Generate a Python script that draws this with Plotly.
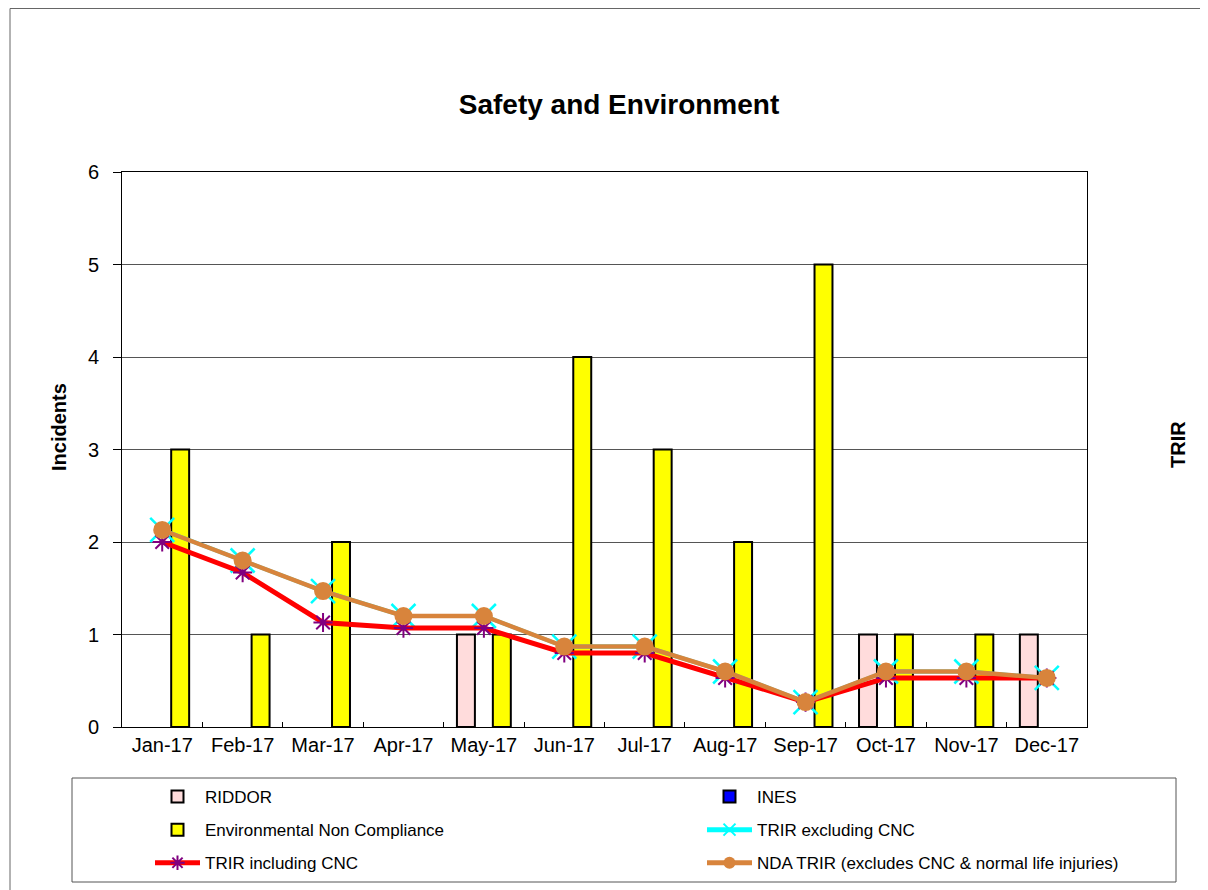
import plotly.graph_objects as go

months = ["Jan-17", "Feb-17", "Mar-17", "Apr-17", "May-17", "Jun-17",
          "Jul-17", "Aug-17", "Sep-17", "Oct-17", "Nov-17", "Dec-17"]
riddor = [0, 0, 0, 0, 1, 0, 0, 0, 0, 1, 0, 1]
ines = [0, 0, 0, 0, 0, 0, 0, 0, 0, 0, 0, 0]
env_nc = [3, 1, 2, 0, 1, 4, 3, 2, 5, 1, 1, 0]
trir_excl = [2.13, 1.8, 1.47, 1.2, 1.2, 0.87, 0.87, 0.6, 0.27, 0.6, 0.6, 0.53]
trir_incl = [2.0, 1.67, 1.13, 1.07, 1.07, 0.8, 0.8, 0.53, 0.27, 0.53, 0.53, 0.53]
nda_trir = [2.13, 1.8, 1.47, 1.2, 1.2, 0.87, 0.87, 0.6, 0.27, 0.6, 0.6, 0.53]

# page body offset of 8px; all coordinates below are screen pixels
OFF = 8
W, H = 1208 - OFF, 890 - OFF
SL, SR, ST, SB = 122, 1087, 172, 727
L, R, T, B = SL - OFF, SR - OFF, ST - OFF, SB - OFF


def px(sx):
    return (sx - OFF - L) / (R - L)


def py(sy):
    return (B - (sy - OFF)) / (B - T)


def nz(vals):
    # zero-height bars are not drawn (no outline at the baseline)
    return [v if v else None for v in vals]


FONT = "Liberation Sans, Arial, sans-serif"

fig = go.Figure()
fig.add_bar(name="RIDDOR", x=months, y=nz(riddor), legend="legend", legendgroup="a",
            marker=dict(color="#FFDCDC", line=dict(color="black", width=2)))
fig.add_bar(name="INES", x=months, y=nz(ines), legend="legend2", legendgroup="b",
            marker=dict(color="#0000FF", line=dict(color="black", width=2)))
fig.add_bar(name="Environmental Non Compliance", x=months, y=nz(env_nc), legend="legend", legendgroup="c",
            marker=dict(color="#FFFF00", line=dict(color="black", width=2)))
fig.add_scatter(name="TRIR excluding CNC", x=months, y=trir_excl, yaxis="y2", mode="lines+markers",
                legend="legend2", legendgroup="d",
                line=dict(color="#00FFFF", width=4),
                marker=dict(symbol="x-thin", size=24, line=dict(color="#00FFFF", width=2.5)))
fig.add_scatter(name="TRIR including CNC", x=months, y=trir_incl, yaxis="y2", mode="lines+markers",
                legend="legend", legendgroup="e",
                line=dict(color="#FF0000", width=5),
                marker=dict(symbol="asterisk", size=16, color="#800080", line=dict(color="#800080", width=2)))
fig.add_scatter(name="NDA TRIR (excludes CNC & normal life injuries)", x=months, y=nda_trir, yaxis="y2",
                legend="legend2", legendgroup="f",
                mode="lines+markers", line=dict(color="#D8843C", width=4.5),
                marker=dict(symbol="circle", size=18, color="#D8843C"))

legend_common = dict(orientation="v", xanchor="left", yanchor="top", tracegroupgap=8,
                     font=dict(size=17), bgcolor="rgba(0,0,0,0)", borderwidth=0,
                     traceorder="grouped", itemwidth=45, itemsizing="constant")

fig.update_layout(
    width=W, height=H,
    margin=dict(l=L, r=W - R, t=T, b=H - B, autoexpand=False),
    paper_bgcolor="white", plot_bgcolor="white",
    font=dict(family=FONT, color="black", size=20),
    barmode="group", bargap=0.33, bargroupgap=0,
    title=dict(text="<b>Safety and Environment</b>", xref="container", yref="container",
               x=(619 - OFF) / W, xanchor="center",
               y=1 - (104 - OFF) / H, yanchor="middle", font=dict(size=28)),
    xaxis=dict(range=[-0.5, len(months) - 0.5], tickson="boundaries", ticks="inside", ticklen=5,
               tickcolor="black", showline=True, linecolor="black", linewidth=1, mirror=True,
               tickfont=dict(size=20), showgrid=False),
    yaxis=dict(range=[0, 6], dtick=1, ticks="outside", ticklen=8, tickcolor="black",
               showline=True, linecolor="black", linewidth=1, mirror=True,
               showgrid=True, gridcolor="#555", gridwidth=1, zeroline=False,
               tickfont=dict(size=20), ticklabelstandoff=10),
    yaxis2=dict(range=[0, 6], overlaying="y", side="right", showticklabels=False,
                showgrid=False, zeroline=False, ticks=""),
    showlegend=True,
    legend=dict(x=px(150), y=py(779), **legend_common),
    legend2=dict(x=px(702), y=py(779), **legend_common),
    annotations=[
        dict(text="<b>Incidents</b>", xref="paper", yref="paper", x=px(59), y=py(427),
             xanchor="center", yanchor="middle", textangle=-90, showarrow=False,
             font=dict(size=20)),
        dict(text="<b>TRIR</b>", xref="paper", yref="paper", x=px(1178), y=py(445),
             xanchor="center", yanchor="middle", textangle=-90, showarrow=False,
             font=dict(size=20)),
    ],
    shapes=[
        dict(type="rect", xref="paper", yref="paper", x0=px(72), x1=px(1176), y0=py(882), y1=py(778),
             line=dict(color="#555", width=1)),
        dict(type="rect", xref="paper", yref="paper", x0=px(10), x1=px(1230), y0=py(910), y1=py(8.5),
             line=dict(color="#666", width=1)),
    ],
)

fig.write_html("out.html")
